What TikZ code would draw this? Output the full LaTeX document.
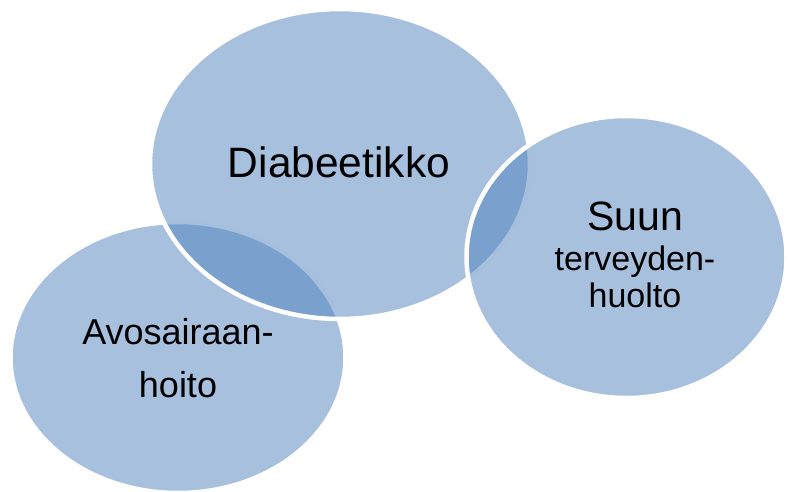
\documentclass[tikz,border=0pt]{standalone}
\usepackage{fontspec}
\setmainfont{Liberation Sans}
\usetikzlibrary{shapes.geometric}
\definecolor{vennblue}{HTML}{4F81BD}

\begin{document}
\begin{tikzpicture}[%
            x=1pt,
            y=-1pt,
            ]
    \tikzset{blob/.style = {ellipse, draw=white, line width=4.5pt, fill=vennblue, fill opacity=0.5, inner sep=0pt}}
    \tikzset{lbl/.style = {align=center, inner sep=0pt, text=black}}

    \useasboundingbox (0,0) rectangle (788,492);

    % Ellipses
    \node[blob, minimum width=335pt, minimum height=271pt] (avo) at (178,357.5) {};
    \node[blob, minimum width=380pt, minimum height=310pt] (diab) at (340,164) {};
    \node[blob, minimum width=320pt, minimum height=282pt] (suun) at (626.5,257) {};

    % Labels
    \node[lbl, font=\fontsize{42.5}{51}\selectfont] (diabtxt) at (339,162.5) {Diabeetikko};
    \node[lbl, font=\fontsize{34}{37}\selectfont] (suuntxt) at (635,255) {{\fontsize{41}{41}\selectfont Suun}\\[3pt]terveyden-\\huolto};
    \node[lbl, font=\fontsize{36}{53}\selectfont] (avotxt) at (178,358.5) {Avosairaan-\\hoito};

\end{tikzpicture}
\end{document}
